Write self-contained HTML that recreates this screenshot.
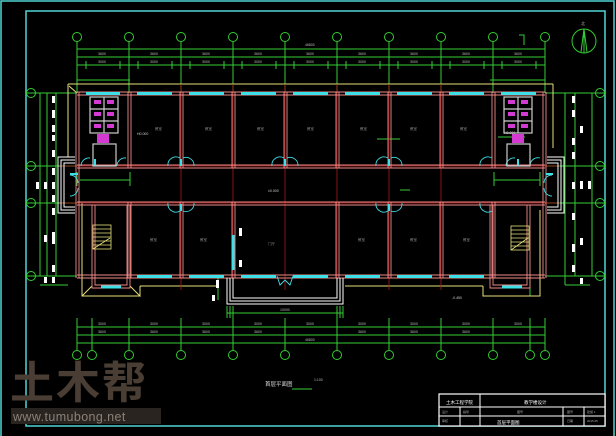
<!DOCTYPE html>
<html><head><meta charset="utf-8"><style>
html,body{margin:0;padding:0;background:#000;width:616px;height:436px;overflow:hidden}
svg{display:block}
text{font-family:"Liberation Sans","Noto Sans CJK SC",sans-serif}
</style></head><body>
<svg width="616" height="436" viewBox="0 0 616 436" xmlns="http://www.w3.org/2000/svg">
<rect width="616" height="436" fill="#000"/>
<!-- outer frames -->
<rect x="1" y="1" width="613" height="440" fill="none" stroke="#4fd5d5" stroke-width="1.5"/>
<rect x="26" y="11" width="579" height="415" fill="none" stroke="#4fd5d5" stroke-width="1.5"/>

<!-- north arrow -->
<circle cx="584" cy="41" r="12" fill="none" stroke="#3c3" stroke-width="1"/>
<path d="M584 29 L581 52 M584 29 L587 52 M584 29 L584 53" stroke="#3c3" fill="none"/>
<text x="581" y="25" font-size="4" fill="#aaa">北</text>

<!-- grid lines top -->
<g stroke="#3c3" stroke-width="1" fill="none">
<line x1="77" y1="49" x2="545" y2="49"/>
<line x1="77" y1="57" x2="545" y2="57"/>
<line x1="77" y1="65" x2="545" y2="65"/>
<line x1="77" y1="80" x2="130" y2="80"/>
<line x1="490" y1="80" x2="545" y2="80"/>
<path d="M77 42V93 M129 42V93 M181 42V93 M233 42V93 M285 42V93 M337 42V93 M389 42V93 M441 42V93 M493 42V93 M545 42V93"/>
<path d="M86 61V69 M120 61V69 M138 61V69 M172 61V69 M190 61V69 M224 61V69 M242 61V69 M276 61V69 M294 61V69 M328 61V69 M346 61V69 M380 61V69 M398 61V69 M432 61V69 M450 61V69 M484 61V69 M502 61V69 M536 61V69"/>
<circle cx="77" cy="37" r="4.5"/><circle cx="129" cy="37" r="4.5"/><circle cx="181" cy="37" r="4.5"/><circle cx="233" cy="37" r="4.5"/><circle cx="285" cy="37" r="4.5"/><circle cx="337" cy="37" r="4.5"/><circle cx="389" cy="37" r="4.5"/><circle cx="441" cy="37" r="4.5"/><circle cx="493" cy="37" r="4.5"/><circle cx="545" cy="37" r="4.5"/>
<path d="M519 35H524V45"/>
<!-- bottom dims -->
<line x1="77" y1="327" x2="545" y2="327"/>
<line x1="77" y1="335" x2="545" y2="335"/>
<line x1="77" y1="343" x2="545" y2="343"/>
<line x1="227" y1="313" x2="343" y2="313"/>
<path d="M77 318V350 M92 318V350 M129 318V350 M181 318V350 M233 318V350 M285 318V350 M337 318V350 M389 318V350 M441 318V350 M493 318V350 M530 318V350 M545 318V350"/>
<path d="M227 306V318 M230 306V318 M233 306V318 M337 306V318 M340 306V318 M343 306V318"/>
<circle cx="77" cy="355" r="4.5"/><circle cx="92" cy="355" r="4.5"/><circle cx="129" cy="355" r="4.5"/><circle cx="181" cy="355" r="4.5"/><circle cx="233" cy="355" r="4.5"/><circle cx="285" cy="355" r="4.5"/><circle cx="337" cy="355" r="4.5"/><circle cx="389" cy="355" r="4.5"/><circle cx="441" cy="355" r="4.5"/><circle cx="493" cy="355" r="4.5"/><circle cx="530" cy="355" r="4.5"/><circle cx="545" cy="355" r="4.5"/>
<!-- left dims -->
<path d="M26 93H77 M26 166H77 M26 203H77 M26 276H77"/>
<path d="M40 93V276 M47 93V276 M56 93V276 M40 285H68"/>
<circle cx="31" cy="93" r="4.5"/><circle cx="31" cy="166" r="4.5"/><circle cx="31" cy="203" r="4.5"/><circle cx="31" cy="276" r="4.5"/>
<!-- right dims -->
<path d="M545 93H605 M545 166H605 M545 203H605 M545 276H605"/>
<path d="M565 93V285 M575 93V276 M592 93V276 M565 285H590"/>
<circle cx="600" cy="93" r="4.5"/><circle cx="600" cy="166" r="4.5"/><circle cx="600" cy="203" r="4.5"/><circle cx="600" cy="276" r="4.5"/>
<!-- inner corridor dims -->
<path d="M80 180H130 M494 180H540 M77 172V186 M130 172V186 M494 172V186 M540 172V186"/>
<path d="M218 276V300 M530 276V296"/>
<line x1="377" y1="139" x2="400" y2="139"/><line x1="525" y1="137" x2="498" y2="137"/>
<line x1="400" y1="190" x2="410" y2="190"/>
</g>
<!-- dim texts -->
<g font-size="3.5" fill="#bbb">
<text x="98" y="55">3600</text><text x="150" y="55">3600</text><text x="202" y="55">3600</text><text x="254" y="55">3600</text><text x="306" y="55">3600</text><text x="358" y="55">3600</text><text x="410" y="55">3600</text><text x="462" y="55">3600</text><text x="514" y="55">3600</text>
<text x="98" y="63">3000</text><text x="150" y="63">3000</text><text x="202" y="63">3000</text><text x="254" y="63">3000</text><text x="306" y="63">3000</text><text x="358" y="63">3000</text><text x="410" y="63">3000</text><text x="462" y="63">3000</text><text x="514" y="63">3000</text>
<text x="305" y="46">46800</text><text x="305" y="341">46800</text>
<text x="98" y="325">3000</text><text x="150" y="325">3000</text><text x="202" y="325">3000</text><text x="254" y="325">3000</text><text x="306" y="325">3000</text><text x="358" y="325">3000</text><text x="410" y="325">3000</text><text x="462" y="325">3000</text><text x="514" y="325">3000</text>
<text x="98" y="333">3600</text><text x="150" y="333">3600</text><text x="202" y="333">3600</text><text x="254" y="333">3600</text><text x="358" y="333">3600</text><text x="410" y="333">3600</text><text x="462" y="333">3600</text>
<text x="280" y="311">10000</text>
<text x="137" y="135" fill="#ccc">H0.000</text><text x="504" y="134" fill="#ccc">H0.000</text>
<text x="268" y="192" fill="#ccc">±0.000</text><text x="452" y="299" fill="#ccc">-0.450</text>
<g fill="#888"><text x="155" y="130">教室</text><text x="205" y="130">教室</text><text x="257" y="130">教室</text><text x="307" y="130">教室</text><text x="360" y="130">教室</text><text x="410" y="130">教室</text><text x="460" y="130">教室</text><text x="150" y="241">教室</text><text x="200" y="241">教室</text><text x="268" y="245">门厅</text><text x="358" y="241">教室</text><text x="410" y="241">教室</text><text x="463" y="241">教室</text></g>
</g>

<!-- yellow outline -->
<g stroke="#e6e07a" stroke-width="1" fill="none">
<path d="M68 84H553"/>
<path d="M68 84V157 M553 84V148"/>
<path d="M82 203V296H140L130 286 M92 286L82 296"/>
<path d="M140 286V290 M140 286H218"/>
<path d="M140 286L140 296"/>
<path d="M345 286H483 M483 286V296H540V210"/>
<path d="M69 86L77 93" />
</g>

<!-- red axis lines -->
<g stroke="#b01818" stroke-width="0.8">
<line x1="60" y1="166" x2="560" y2="166"/><line x1="60" y1="203" x2="560" y2="203"/>
<path d="M181 84V290 M233 84V290 M285 84V290 M337 84V290 M389 84V290 M441 84V290"/>
</g>

<!-- walls -->
<g stroke="#f08a8a" stroke-width="0.9" fill="none">
<path d="M77 92H545 M77 95H545"/>
<path d="M77 165H545 M77 168H545"/>
<path d="M77 202H545 M77 205H545"/>
<path d="M77 275H545 M77 278H545"/>
<path d="M76 92V278 M79 92V278 M543 92V278 M546 92V278"/>
<path d="M128 92V168 M131 92V168 M180 92V168 M183 92V168 M232 92V168 M235 92V168 M284 92V168 M287 92V168 M336 92V168 M339 92V168 M388 92V168 M391 92V168 M440 92V168 M443 92V168 M492 92V168 M495 92V168"/>
<path d="M128 202V278 M131 202V278 M180 202V278 M183 202V278 M232 202V278 M235 202V278 M336 202V278 M339 202V278 M388 202V278 M391 202V278 M440 202V278 M443 202V278 M492 202V278 M495 202V278"/>
<path d="M92 205V288H130V205 M95 205V285H127V205"/>
<path d="M490 205V288H530V205 M493 205V285H527V205"/>
</g>
<!-- windows -->
<g stroke="#3ee0e8" stroke-width="3">
<path d="M86 93.5H120 M137 93.5H172 M189 93.5H224 M241 93.5H276 M293 93.5H328 M345 93.5H380 M397 93.5H432 M449 93.5H484 M501 93.5H536"/>
<path d="M137 276.5H172 M189 276.5H224 M241 276.5H276 M293 276.5H328 M345 276.5H380 M397 276.5H432 M449 276.5H484"/>
<path d="M101 287H121 M502 287H522"/>
<path d="M233 235V270"/>
</g>
<!-- doors -->
<g stroke="#3ee0e8" stroke-width="0.9" fill="none">
<path d="M168 166A8 8 0 0 1 180 158 M194 166A8 8 0 0 0 183 158 M272 166A8 8 0 0 1 284 158 M298 166A8 8 0 0 0 287 158 M376 166A8 8 0 0 1 388 158 M402 166A8 8 0 0 0 391 158 M480 166A8 8 0 0 1 492 158"/>
<path d="M168 203A8 8 0 0 0 180 211 M194 203A8 8 0 0 1 183 211 M376 203A8 8 0 0 0 388 211 M402 203A8 8 0 0 1 391 211 M480 203A8 8 0 0 0 492 211"/>
<path d="M81 166A8 8 0 0 1 90 158 M117 166A8 8 0 0 1 126 158 M506 166A8 8 0 0 1 515 158 M530 166A8 8 0 0 1 540 158"/>
<path d="M70 175A8 8 0 0 1 78 183 M70 196A8 8 0 0 0 78 188 M552 175A8 8 0 0 0 544 183 M552 196A8 8 0 0 1 544 188"/>
<path d="M277 276L280 285L285 280L290 285L293 276"/>
</g>
<g stroke="#3ee0e8" stroke-width="2"><path d="M181 159V166 M285 159V166 M389 159V166 M181 204V211 M389 204V211 M95 159V166 M518 159V166 M70 174H78 M546 174H553"/></g>

<!-- toilets -->
<g stroke="#ccc" stroke-width="1.2" fill="none">
<rect x="90" y="97" width="28" height="36"/>
<path d="M90 109H118 M90 121H118 M104 97V133"/>
<rect x="93" y="144" width="23" height="22"/>
<rect x="504" y="97" width="28" height="36"/>
<path d="M504 109H532 M504 121H532 M518 97V133"/>
<rect x="507" y="144" width="23" height="22"/>
</g>
<g fill="#d23ad2">
<rect x="94" y="100" width="7" height="4"/><rect x="107" y="100" width="7" height="4"/>
<rect x="94" y="112" width="7" height="4"/><rect x="107" y="112" width="7" height="4"/>
<rect x="94" y="124" width="7" height="4"/><rect x="107" y="124" width="7" height="4"/>
<rect x="97" y="134" width="12" height="9"/>
<rect x="508" y="100" width="7" height="4"/><rect x="521" y="100" width="7" height="4"/>
<rect x="508" y="112" width="7" height="4"/><rect x="521" y="112" width="7" height="4"/>
<rect x="508" y="124" width="7" height="4"/><rect x="521" y="124" width="7" height="4"/>
<rect x="512" y="134" width="12" height="9"/>
</g>

<!-- stairs -->
<g stroke="#e6e07a" stroke-width="0.8" fill="none">
<rect x="93" y="225" width="18" height="24"/>
<path d="M93 229H111 M93 233H111 M93 237H111 M93 241H111 M93 245H111 M93 249L110 238"/>
<rect x="511" y="226" width="18" height="24"/>
<path d="M511 230H529 M511 234H529 M511 238H529 M511 242H529 M511 246H529 M511 250L528 238"/>
</g>

<!-- white entrance lines -->
<g stroke="#fff" stroke-width="1" fill="none">
<path d="M227 278V304H343V278 M230 278V301H340V278 M233 278V298H337V278"/>
<path d="M75 157H58V213H75 M75 160H61V210H75 M75 163H64V207H75"/>
<path d="M547 157H564V213H547 M547 160H561V210H547 M547 163H558V207H547"/>
</g>
<g fill="#fff">
<rect x="52" y="96" width="3" height="7"/><rect x="52" y="110" width="3" height="8"/><rect x="52" y="125" width="3" height="7"/><rect x="52" y="135" width="3" height="6"/><rect x="52" y="150" width="3" height="7"/><rect x="52" y="168" width="3" height="7"/><rect x="36" y="182" width="3" height="7"/><rect x="44" y="182" width="3" height="7"/><rect x="52" y="182" width="3" height="7"/><rect x="52" y="195" width="3" height="7"/><rect x="52" y="208" width="3" height="7"/><rect x="44" y="235" width="3" height="7"/><rect x="52" y="232" width="3" height="12"/><rect x="52" y="265" width="3" height="7"/><rect x="44" y="277" width="3" height="6"/><rect x="52" y="277" width="3" height="6"/>
<rect x="572" y="96" width="3" height="7"/><rect x="572" y="110" width="3" height="7"/><rect x="580" y="126" width="3" height="7"/><rect x="572" y="138" width="3" height="7"/><rect x="572" y="152" width="3" height="7"/><rect x="572" y="182" width="3" height="7"/><rect x="580" y="181" width="3" height="8"/><rect x="588" y="181" width="3" height="8"/><rect x="572" y="213" width="3" height="7"/><rect x="580" y="238" width="3" height="7"/><rect x="572" y="244" width="3" height="8"/><rect x="572" y="265" width="3" height="7"/><rect x="580" y="278" width="3" height="6"/>
<rect x="216" y="280" width="3" height="8"/><rect x="212" y="295" width="3" height="6"/><rect x="239" y="228" width="3" height="8"/><rect x="239" y="260" width="3" height="7"/>
</g>

<!-- title -->
<text x="265" y="386" font-size="5.5" fill="#ddd">首层平面图</text>
<text x="314" y="381" font-size="3.5" fill="#bbb">1:100</text>
<line x1="292" y1="389" x2="312" y2="389" stroke="#3c3" stroke-width="1"/>

<!-- watermark -->
<text x="10" y="398" font-size="44" font-weight="bold" fill="#4a3e34" letter-spacing="2">土木帮</text>
<rect x="11" y="408" width="150" height="16" fill="#2a2420"/>
<text x="13" y="421" font-size="12.5" fill="#8a8078" font-family="Liberation Mono,monospace" letter-spacing="0.4">www.tumubong.net</text>

<!-- title block -->
<g stroke="#fff" stroke-width="1.2" fill="#000">
<rect x="439" y="394" width="166" height="32"/>
</g>
<g stroke="#fff" stroke-width="1" fill="none">
<path d="M439 407H605 M439 416H605 M480 394V426 M460 407V426 M563 407V426 M584 407V426"/>
</g>
<g fill="#fff" font-size="4.5">
<text x="446" y="404">土木工程学院</text><text x="524" y="404">教学楼设计</text>
<text x="497" y="424">首层平面图</text>
</g>
<g fill="#aaa" font-size="3"><text x="442" y="413">设计</text><text x="463" y="413">指导</text><text x="517" y="413">图号</text><text x="567" y="413">图号</text><text x="587" y="413">建施 1</text><text x="442" y="422">审核</text><text x="567" y="422">日期</text><text x="587" y="422">2015.05</text></g>
</svg>
</body></html>
